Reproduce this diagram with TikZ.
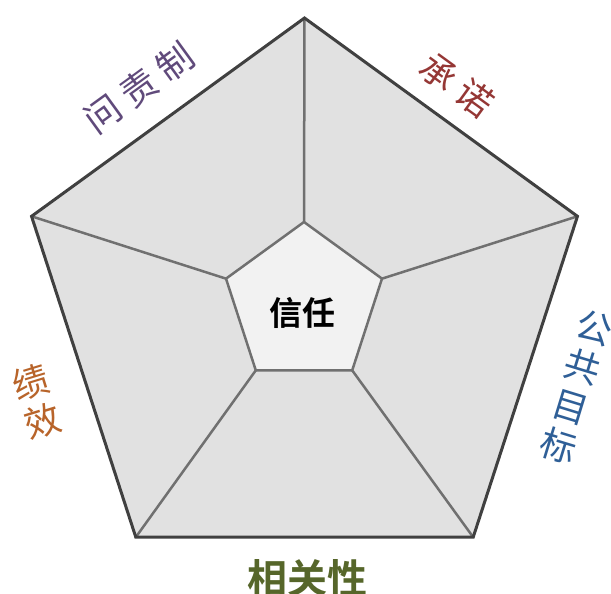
\documentclass[tikz,border=0pt]{standalone}
\usepackage{fontspec}
\newfontfamily\cjk{Noto Sans CJK SC}
\newfontfamily\cjkb{Noto Sans CJK SC Bold}
\definecolor{outerfill}{HTML}{E1E1E1}
\definecolor{innerfill}{HTML}{F2F2F2}
\definecolor{outerline}{HTML}{404040}
\definecolor{innerline}{HTML}{707070}
\definecolor{cpurple}{HTML}{604A7B}
\definecolor{cred}{HTML}{953735}
\definecolor{cblue}{HTML}{2F5F97}
\definecolor{corange}{HTML}{B8642A}
\definecolor{colive}{HTML}{56662A}
\tikzset{
  lbl/.style={font=\cjk\fontsize{36}{41}\selectfont, inner sep=0pt, align=center},
  spoke/.style={draw=innerline, line width=2.5pt},
}
\newcommand{\gapc}{\hspace{8pt}}
\begin{document}
\begin{tikzpicture}[x=1pt,y=-1pt]
\useasboundingbox (0,0) rectangle (611,594);
\fill[white] (0,0) rectangle (611,594);
% outer vertices
\begin{scope}[shift={(304.5,305)}]
  \coordinate (O1) at (-90:287);
  \coordinate (O2) at (-18:287);
  \coordinate (O3) at (54:287);
  \coordinate (O4) at (126:287);
  \coordinate (O5) at (198:287);
\end{scope}
\begin{scope}[shift={(304,304)}]
  \coordinate (I1) at (-90:82);
  \coordinate (I2) at (-18:82);
  \coordinate (I3) at (54:82);
  \coordinate (I4) at (126:82);
  \coordinate (I5) at (198:82);
\end{scope}
\fill[outerfill] (O1) -- (O2) -- (O3) -- (O4) -- (O5) -- cycle;
\draw[spoke] (I1) -- (O1);
\draw[spoke] (I2) -- (O2);
\draw[spoke] (I3) -- (O3);
\draw[spoke] (I4) -- (O4);
\draw[spoke] (I5) -- (O5);
\draw[outerline, line width=3pt, line join=miter] (O1) -- (O2) -- (O3) -- (O4) -- (O5) -- cycle;
\draw[innerline, fill=innerfill, line width=2.5pt, line join=miter] (I1) -- (I2) -- (I3) -- (I4) -- (I5) -- cycle;
\node[font=\cjkb\fontsize{33}{36}\selectfont, inner sep=0pt] (trust) at (302,313) {信任};
\node[lbl, text=cpurple, rotate=36] (accnt) at (139,88) {问\gapc 责\gapc 制};
\node[lbl, text=cred, rotate=-36] (promise) at (457,85) {承\gapc 诺};
\node[lbl, text=cblue, rotate=-17] (goal) at (577,387) {公\\共\\目\\标};
\node[lbl, text=corange, rotate=17] (perf) at (37,402) {绩\\效};
\node[font=\cjkb\fontsize{40}{42}\selectfont, text=colive, inner sep=0pt] (rel) at (307,578) {相关性};
\end{tikzpicture}
\end{document}
